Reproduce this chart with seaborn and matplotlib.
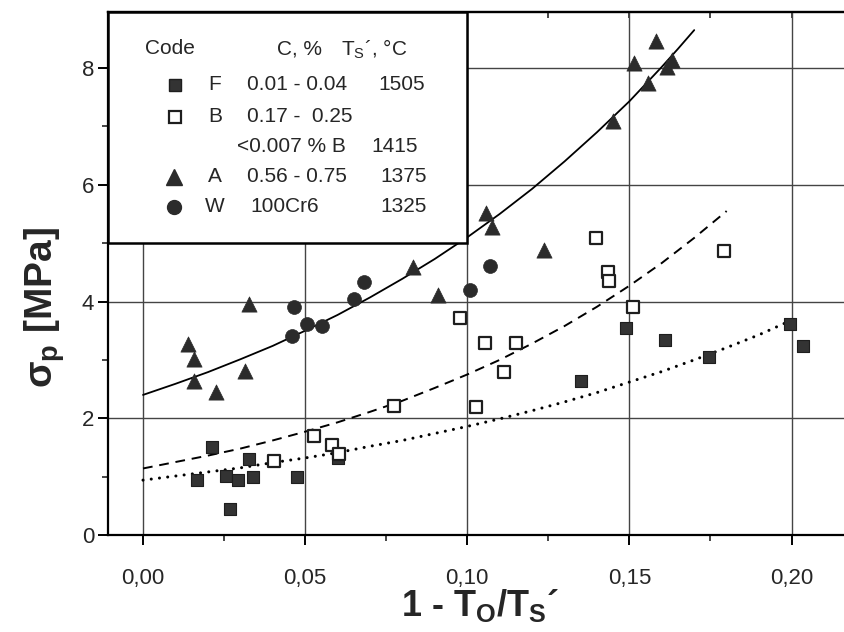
import matplotlib
matplotlib.use('Agg')
import matplotlib.pyplot as plt
import seaborn as sns
from matplotlib.patches import Rectangle
from matplotlib.ticker import MultipleLocator, FuncFormatter

# --- values ---
# F: filled squares
f_x = [0.0168, 0.0213, 0.0269, 0.0257, 0.0292, 0.0326, 0.0338, 0.0474, 0.0600,
       0.1351, 0.1489, 0.1611, 0.1747, 0.1995, 0.2036]
f_y = [0.94, 1.50, 0.44, 1.01, 0.95, 1.30, 1.00, 1.00, 1.32,
       2.63, 3.54, 3.34, 3.05, 3.62, 3.24]
# B: open squares
b_x = [0.0403, 0.0527, 0.0582, 0.0603, 0.0775, 0.0979, 0.1028, 0.1056, 0.1112,
       0.1149, 0.1397, 0.1433, 0.1437, 0.1510, 0.1793]
b_y = [1.27, 1.70, 1.54, 1.38, 2.21, 3.71, 2.20, 3.29, 2.79,
       3.29, 5.09, 4.51, 4.35, 3.90, 4.87]
# A: triangles
a_x = [0.0138, 0.0158, 0.0158, 0.0226, 0.0314, 0.0326, 0.0834, 0.0909, 0.1057,
       0.1076, 0.1237, 0.1451, 0.1513, 0.1557, 0.1581, 0.1616, 0.1632]
a_y = [3.27, 3.01, 2.64, 2.45, 2.81, 3.96, 4.59, 4.12, 5.51,
       5.27, 4.89, 7.09, 8.09, 7.75, 8.46, 8.02, 8.13]
# W: circles
w_x = [0.0460, 0.0465, 0.0507, 0.0551, 0.0651, 0.0680, 0.1007, 0.1069]
w_y = [3.41, 3.91, 3.62, 3.58, 4.04, 4.33, 4.20, 4.61]

# fitted curves, points
fit_aw_x = [0.0, 0.01, 0.02, 0.03, 0.04, 0.05, 0.06, 0.07, 0.08, 0.09, 0.10,
            0.11, 0.12, 0.13, 0.14, 0.15, 0.16, 0.165, 0.17]
fit_aw_y = [2.40, 2.59, 2.79, 3.01, 3.24, 3.50, 3.77, 4.07, 4.39, 4.73, 5.10,
            5.50, 5.93, 6.40, 6.90, 7.43, 8.02, 8.33, 8.65]
fit_b_x = [0.0, 0.01, 0.02, 0.03, 0.04, 0.05, 0.06, 0.07, 0.08, 0.09, 0.10,
           0.11, 0.12, 0.13, 0.14, 0.15, 0.16, 0.17, 0.18]
fit_b_y = [1.14, 1.25, 1.36, 1.48, 1.62, 1.77, 1.93, 2.11, 2.30, 2.52, 2.75,
           3.00, 3.28, 3.58, 3.91, 4.27, 4.66, 5.09, 5.55]
fit_f_x = [0.0, 0.01, 0.02, 0.03, 0.04, 0.05, 0.06, 0.07, 0.08, 0.09, 0.10,
           0.11, 0.12, 0.13, 0.14, 0.15, 0.16, 0.17, 0.18, 0.19, 0.198]
fit_f_y = [0.94, 1.01, 1.08, 1.15, 1.24, 1.32, 1.41, 1.52, 1.62, 1.74, 1.86,
           1.99, 2.13, 2.28, 2.44, 2.62, 2.80, 3.00, 3.21, 3.43, 3.63]

x_ticks = [0.0, 0.05, 0.10, 0.15, 0.20]
y_ticks = [0, 2, 4, 6, 8]

legend_rows = [
    ('s', 'F', '0.01 - 0.04', '1505'),
    ('s_open', 'B', '0.17 -  0.25', ''),
    ('', '', '<0.007 % B', '1415'),
    ('^', 'A', '0.56 - 0.75', '1375'),
    ('o', 'W', '100Cr6', '1325'),
]

sns.set_style('ticks')
plt.rcParams['font.family'] = ['Liberation Sans', 'DejaVu Sans']
plt.rcParams['mathtext.fontset'] = 'custom'
plt.rcParams['mathtext.rm'] = 'Liberation Sans'
plt.rcParams['mathtext.bf'] = 'Liberation Sans:bold'
plt.rcParams['mathtext.it'] = 'Liberation Sans:italic'

dark = '#2b2b2b'
fig = plt.figure(figsize=(8.45, 6.32), dpi=100)
ax = fig.add_axes([108 / 845, 97 / 632, 737 / 845, 523 / 632])

xmin, xmax = -0.0108, 0.2165
ymin, ymax = 0, 8.96

# curves
sns.lineplot(x=fit_aw_x, y=fit_aw_y, ax=ax, color='k', lw=1.3, estimator=None, zorder=2)
sns.lineplot(x=fit_b_x, y=fit_b_y, ax=ax, color='k', lw=1.4, estimator=None, zorder=2)
ax.lines[-1].set_linestyle((0, (5, 3.5)))
sns.lineplot(x=fit_f_x, y=fit_f_y, ax=ax, color='k', lw=2.2, estimator=None, zorder=2)
ax.lines[-1].set_linestyle((0, (0.01, 2.7)))
ax.lines[-1].set_dash_capstyle('round')

# points
sns.scatterplot(x=f_x, y=f_y, ax=ax, marker='s', s=80, color='#333333',
                edgecolor='#1e1e1e', linewidth=0.8, zorder=3)
sns.scatterplot(x=b_x, y=b_y, ax=ax, marker='s', s=72, color='white',
                edgecolor='#1e1e1e', linewidth=1.6, zorder=3)
sns.scatterplot(x=a_x, y=a_y, ax=ax, marker='^', s=120, color=dark,
                edgecolor=dark, linewidth=0.5, zorder=3)
sns.scatterplot(x=w_x, y=w_y, ax=ax, marker='o', s=100, color=dark,
                edgecolor=dark, linewidth=0.5, zorder=3)

ax.set_xlim(xmin, xmax)
ax.set_ylim(ymin, ymax)
ax.set_xticks(x_ticks)
ax.set_yticks(y_ticks)
ax.xaxis.set_minor_locator(MultipleLocator(0.025))
ax.yaxis.set_minor_locator(MultipleLocator(1))
ax.xaxis.set_major_formatter(FuncFormatter(lambda v, p: f'{v:.2f}'.replace('.', ',')))
ax.grid(True, which='major', color='#444444', lw=1.0)
ax.set_axisbelow(True)

ax.tick_params(axis='both', which='major', direction='out', length=7, width=1.4,
               labelsize=16, color='k')
ax.tick_params(axis='both', which='minor', direction='out', length=4, width=1.2)
ax.tick_params(axis='x', which='major', pad=17)
ax.tick_params(axis='y', which='major', pad=3)
for side in ['left', 'bottom', 'top']:
    ax.spines[side].set_linewidth(1.6)
    ax.spines[side].set_color('k')
ax.spines['right'].set_visible(False)

top = ax.secondary_xaxis('top')
top.set_xticks(x_ticks)
top.xaxis.set_minor_locator(MultipleLocator(0.025))
top.tick_params(which='both', direction='in', length=4, width=1.2, labeltop=False)
top.spines['top'].set_linewidth(1.6)

ax.set_xlabel('1 - T$_\\mathbf{O}$/T$_\\mathbf{S}$\u00b4', fontsize=26, fontweight='bold')
ax.set_ylabel('\u03c3$_\\mathbf{p}$ [MPa]', fontsize=28, fontweight='bold')
ax.xaxis.set_label_coords(0.505, -0.1)
ax.yaxis.set_label_coords(-0.056, 0.436)

# legend box in the upper left cell
bw = (0.10 - xmin) / (xmax - xmin)
by = 5.0 / ymax
ax.add_patch(Rectangle((0, by), bw, 1 - by, transform=ax.transAxes,
                       facecolor='white', edgecolor='k', lw=1.8, zorder=4))


def fx(px):
    return (px - 108) / 737


def fy(py):
    return (535 - py) / 523


fs = 15
ax.text(fx(145), fy(49), 'Code', fontsize=fs, va='center', ha='left',
        transform=ax.transAxes, zorder=5)
ax.text(fx(277), fy(49), 'C, %', fontsize=fs, va='center', ha='left',
        transform=ax.transAxes, zorder=5)
ax.text(fx(341), fy(49), 'T$_\\mathrm{S}$\u00b4, \u00b0C', fontsize=fs, va='center',
        ha='left', transform=ax.transAxes, zorder=5)

row_y = [85, 117, 147, 177, 207]
for (mk, code, carbon, temp), py in zip(legend_rows, row_y):
    if mk == 's':
        ax.plot([fx(175)], [fy(py)], marker='s', ms=8.5, color='#333333',
                mec='#1e1e1e', transform=ax.transAxes, zorder=5)
    elif mk == 's_open':
        ax.plot([fx(175)], [fy(py)], marker='s', ms=8, color='white',
                mec='#1e1e1e', mew=1.6, transform=ax.transAxes, zorder=5)
    elif mk == '^':
        ax.plot([fx(174)], [fy(py)], marker='^', ms=11, color=dark,
                transform=ax.transAxes, zorder=5)
    elif mk == 'o':
        ax.plot([fx(174)], [fy(py)], marker='o', ms=10, color=dark,
                transform=ax.transAxes, zorder=5)
    if code:
        ax.text(fx(215), fy(py), code, fontsize=fs, va='center', ha='center',
                transform=ax.transAxes, zorder=5)
    cx = 237 if carbon.startswith('<') else (250 if carbon == '100Cr6' else 247)
    ax.text(fx(cx), fy(py), carbon, fontsize=fs, va='center', ha='left',
            transform=ax.transAxes, zorder=5)
    if temp:
        tx = 418 if carbon.startswith('<') else (425 if code == 'F' else 427)
        ax.text(fx(tx), fy(py), temp, fontsize=fs, va='center', ha='right',
                transform=ax.transAxes, zorder=5)

fig.savefig('out.png', dpi=100)
